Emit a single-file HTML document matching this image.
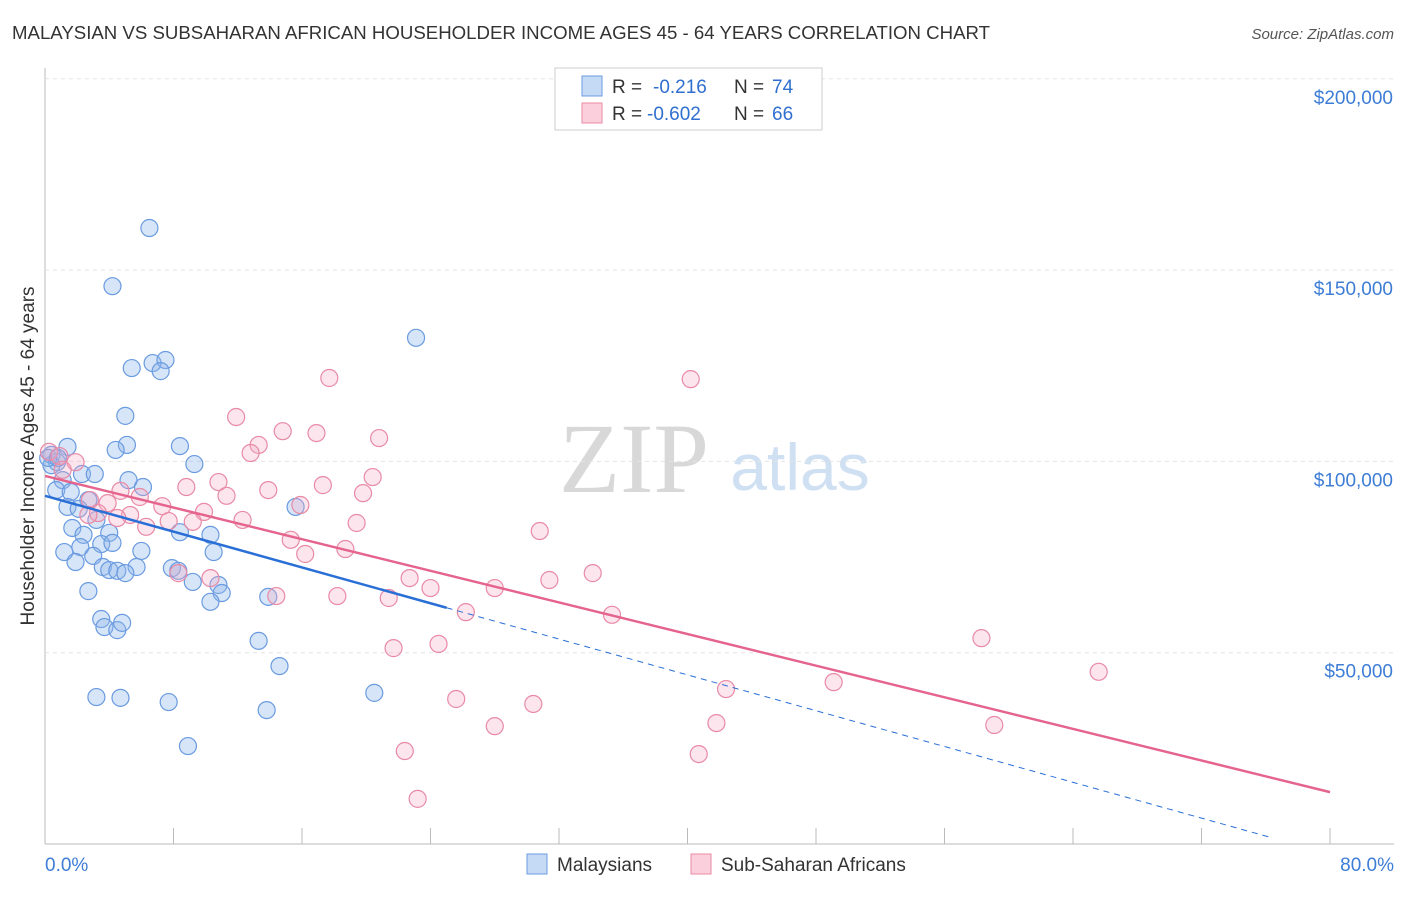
<!DOCTYPE html>
<html><head><meta charset="utf-8"><style>
body{margin:0;background:#fff;font-family:"Liberation Sans",sans-serif}
svg text{font-family:"Liberation Sans",sans-serif}
</style></head><body>
<svg id="c" width="1406" height="892">
<text x="12" y="39" font-size="18" fill="#333" textLength="978" lengthAdjust="spacingAndGlyphs">MALAYSIAN VS SUBSAHARAN AFRICAN HOUSEHOLDER INCOME AGES 45 - 64 YEARS CORRELATION CHART</text>
<text x="1394" y="39" font-size="15" fill="#555" font-style="italic" text-anchor="end">Source: ZipAtlas.com</text>
<text x="634" y="492" font-size="100" fill="#d8d8d8" style="font-family:'Liberation Serif',serif" text-anchor="middle">ZIP</text>
<text x="800" y="490" font-size="66" fill="#cfe0f3" text-anchor="middle">atlas</text>
<g id="grid"></g><g id="pts"></g><g id="lines"></g>
<text transform="translate(34,456) rotate(-90)" font-size="19" fill="#333" text-anchor="middle">Householder Income Ages 45 - 64 years</text>
<g>
<rect x="555" y="68" width="267" height="62" fill="#fff" stroke="#ccc"/>
<rect x="582" y="76" width="20" height="20" fill="#c5daf5" stroke="#6a9be0"/>
<rect x="582" y="103" width="20" height="20" fill="#fbd0dc" stroke="#e88aa6"/>
<text x="612" y="93" font-size="19" fill="#333">R =</text>
<text x="653" y="93" font-size="19" fill="#2f6fd0">-0.216</text>
<text x="734" y="93" font-size="19" fill="#333">N =</text>
<text x="772" y="93" font-size="19" fill="#2f6fd0">74</text>
<text x="612" y="120" font-size="19" fill="#333">R =</text>
<text x="647" y="120" font-size="19" fill="#2f6fd0">-0.602</text>
<text x="734" y="120" font-size="19" fill="#333">N =</text>
<text x="772" y="120" font-size="19" fill="#2f6fd0">66</text>
</g>
<g>
<rect x="527" y="854" width="20" height="20" fill="#c5daf5" stroke="#6a9be0"/>
<text x="557" y="871" font-size="19" fill="#333">Malaysians</text>
<rect x="691" y="854" width="20" height="20" fill="#fbd0dc" stroke="#e88aa6"/>
<text x="721" y="871" font-size="19" fill="#333">Sub-Saharan Africans</text>
</g>
</svg>
<script>
const yTicks=[50,100,150,200];
const yTickLabels=["$50,000","$100,000","$150,000","$200,000"];
const xTickLabels=["0.0%","80.0%"];
const blueX=[6.5,4.2,23.1,5.4,6.7,7.5,7.2,5.0,5.1,4.4,8.4,1.4,0.4,0.75,9.3,2.3,3.1,5.2,6.1,1.1,0.7,1.6,2.7,15.6,1.4,2.1,3.2,1.7,4.0,2.4,8.4,10.3,3.5,4.2,2.2,1.2,6.0,10.5,3.0,1.9,5.7,3.6,4.0,4.5,5.0,7.9,8.3,9.2,10.8,11,10.3,13.9,2.7,3.5,3.7,4.5,4.8,13.3,14.6,20.5,3.2,4.7,7.7,13.8,8.9,0.4,0.2,0.8];
const blueY=[161,145.8,132.3,124.4,125.7,126.5,123.6,111.9,104.3,103,104,103.8,101.7,99.8,99.3,96.7,96.7,95.1,93.3,95.1,92.5,92,89.9,88.1,88.1,87.6,84.7,82.6,81.3,80.8,81.5,80.8,78.4,78.7,77.6,76.3,76.6,76.3,75.3,73.7,72.4,72.4,71.6,71.4,70.8,72.1,71.4,68.5,67.7,65.6,63.3,64.6,66.1,58.8,56.7,55.9,57.8,53.1,46.5,39.5,38.4,38.2,37.1,35,25.6,99,100.9,100.9];
const pinkX=[17.7,40.2,11.9,14.8,16.9,20.8,13.3,12.8,0.25,0.9,1.9,1.1,20.4,10.8,17.3,8.8,4.7,13.9,19.8,5.9,11.3,2.8,3.9,15.9,7.3,9.9,3.3,5.3,4.5,2.7,9.2,12.3,7.7,19.4,6.3,30.8,15.3,18.7,16.2,8.3,22.7,31.4,34.1,10.3,24,28,14.4,18.2,21.4,26.2,35.3,58.3,24.5,21.7,65.6,49.1,42.4,25.6,30.4,41.8,59.1,28,22.4,40.7,23.2];
const pinkY=[121.8,121.5,111.6,107.9,107.4,106.1,104.3,102.2,102.5,101.4,99.8,97.8,95.9,94.6,93.8,93.3,92.3,92.5,91.7,90.7,91,89.9,89.1,88.6,88.3,86.8,86.5,86,85.2,86,84.2,84.7,84.4,83.9,82.9,81.8,79.5,77.1,75.8,70.8,69.5,69,70.8,69.5,66.9,66.9,64.8,64.8,64.3,60.6,59.9,53.8,52.3,51.2,45,42.3,40.5,37.9,36.6,31.6,31.1,30.8,24.3,23.5,11.8];
const blueTrend=[91,-1.17];
const pinkTrend=[96.2,-1.033];
const NS="http://www.w3.org/2000/svg";
const X=v=>45+v*1285/80, Y=v=>844-v*191.3/50;
function mk(p,t,a){const e=document.createElementNS(NS,t);for(const k in a)e.setAttribute(k,a[k]);p.appendChild(e);return e;}
const g=document.getElementById('grid');
mk(g,'line',{x1:45,y1:68,x2:45,y2:844,stroke:'#bbb'});
mk(g,'line',{x1:45,y1:844,x2:1394,y2:844,stroke:'#bbb'});
yTicks.forEach((v,i)=>{
 const l=mk(g,'line',{x1:45,y1:Y(v),x2:1394,y2:Y(v),stroke:'#e4e4e4','stroke-dasharray':'4,4'});
 
 
 const t=mk(g,'text',{x:1393,y:Y(v)+25,'font-size':19,fill:'#3d7dd6','text-anchor':'end'});
 t.textContent=yTickLabels[i];
 
 
});
for(let i=0;i<=10;i++){const l=mk(g,'line',{x1:X(i*8),y1:828,x2:X(i*8),y2:844,stroke:'#bbb'});
 
 }
[[0,'start',45],[1,'end',1394]].forEach(([i,a,x])=>{const t=mk(g,'text',{x:x,y:871,'font-size':19,fill:'#3d7dd6','text-anchor':a});t.textContent=xTickLabels[i];
 
 });
const P=document.getElementById('pts');
blueX.forEach((x,i)=>{const c=mk(P,'circle',{cx:X(x),cy:Y(blueY[i]),r:8.5,fill:'rgba(140,180,235,0.35)',stroke:'#6a9be0','stroke-width':1.2});
 
 });
pinkX.forEach((x,i)=>{const c=mk(P,'circle',{cx:X(x),cy:Y(pinkY[i]),r:8.5,fill:'rgba(245,170,195,0.3)',stroke:'#e88aa6','stroke-width':1.2});
 
 });
const L=document.getElementById('lines');
const f=(t,x)=>t[0]+t[1]*x;
let a=mk(L,'line',{x1:X(0),y1:Y(f(blueTrend,0)),x2:X(25),y2:Y(f(blueTrend,25)),stroke:'#2a6fd6','stroke-width':2.5});


a=mk(L,'line',{x1:X(25),y1:Y(f(blueTrend,25)),x2:X(76.3),y2:Y(f(blueTrend,76.3)),stroke:'#2a6fd6','stroke-width':1,'stroke-dasharray':'6,5'});


a=mk(L,'line',{x1:X(0),y1:Y(f(pinkTrend,0)),x2:X(80),y2:Y(f(pinkTrend,80)),stroke:'#e5648d','stroke-width':2.5});


</script>
</body></html>
